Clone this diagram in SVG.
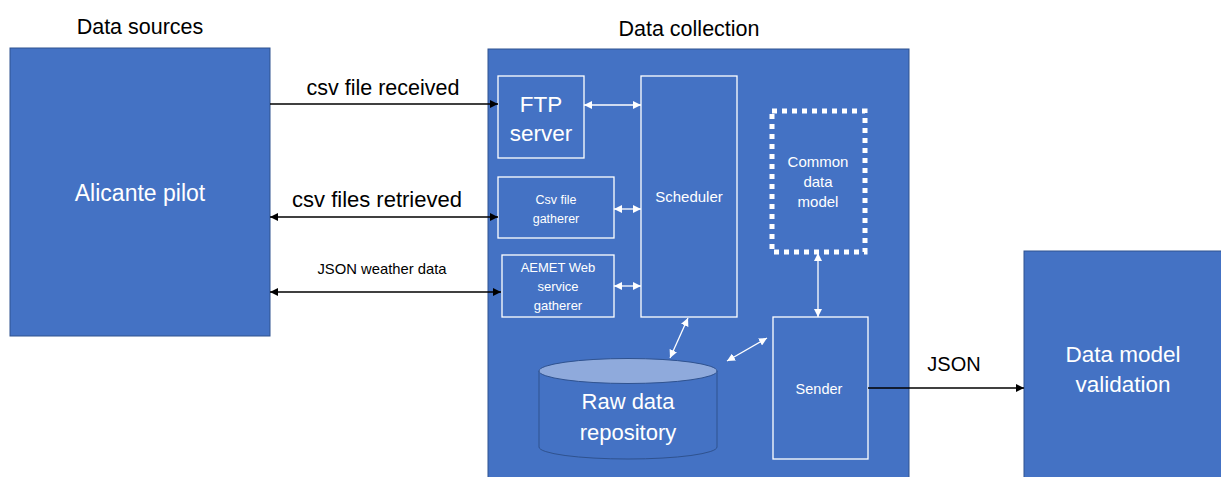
<svg xmlns="http://www.w3.org/2000/svg" width="1221" height="477" viewBox="0 0 1221 477">
<style>
.box{fill:#4472C4;stroke:#2F528F;stroke-width:1}
.inner{fill:#4472C4;stroke:#fff;stroke-width:1.3}
.t{font-family:"Liberation Sans",Arial,sans-serif;text-anchor:middle}
.w{fill:#fff}
.k{fill:#000}
.bl{stroke:#000;stroke-width:1.3;fill:none}
.wl{stroke:#fff;stroke-width:1.3;fill:none}
</style>
<defs>
<marker id="ak" viewBox="0 0 10 10" refX="10" refY="5" markerWidth="8" markerHeight="8" markerUnits="userSpaceOnUse" orient="auto-start-reverse"><path d="M0,0 L10,5 L0,10 z" fill="#000"/></marker>
<marker id="aw" viewBox="0 0 10 10" refX="10" refY="5" markerWidth="8" markerHeight="8" markerUnits="userSpaceOnUse" orient="auto-start-reverse"><path d="M0,0 L10,5 L0,10 z" fill="#fff"/></marker>
</defs>
<rect width="1221" height="477" fill="#fff"/>

<text class="t k" x="140" y="34" font-size="21.5">Data sources</text>
<text class="t k" x="689" y="36" font-size="21.5">Data collection</text>

<g id="alicante">
<rect class="box" x="10" y="48" width="260" height="288"/>
<text class="t w" x="140" y="201" font-size="23">Alicante pilot</text>
</g>

<g id="collection">
<rect class="box" x="488" y="49" width="421" height="440"/>
</g>

<g id="ftp">
<rect class="inner" x="498" y="76" width="86" height="82"/>
<text class="t w" x="541" y="112" font-size="22.5">FTP</text>
<text class="t w" x="541" y="141" font-size="22.5">server</text>
</g>

<g id="scheduler">
<rect class="inner" x="641" y="76" width="96" height="241"/>
<text class="t w" x="689" y="202" font-size="15">Scheduler</text>
</g>

<g id="csvgatherer">
<rect class="inner" x="498" y="177" width="116" height="61"/>
<text class="t w" x="556" y="204" font-size="12.5">Csv file</text>
<text class="t w" x="556" y="223" font-size="12.5">gatherer</text>
</g>

<g id="aemet">
<rect class="inner" x="502" y="255" width="112" height="62"/>
<text class="t w" x="558" y="272" font-size="13">AEMET Web</text>
<text class="t w" x="558" y="291" font-size="13">service</text>
<text class="t w" x="558" y="310" font-size="13">gatherer</text>
</g>

<g id="commondatamodel">
<rect x="772" y="111" width="93" height="141" fill="none" stroke="#fff" stroke-width="5" stroke-dasharray="5 5"/>
<text class="t w" x="818" y="167" font-size="15">Common</text>
<text class="t w" x="818" y="187" font-size="15">data</text>
<text class="t w" x="818" y="207" font-size="15">model</text>
</g>

<g id="sender">
<rect class="inner" x="773" y="317" width="95" height="142"/>
<text class="t w" x="819" y="394" font-size="14.5">Sender</text>
</g>

<g id="rawdata">
<path d="M539,371 L539,447 A89,12 0 0 0 717,447 L717,371" fill="#4472C4" stroke="#2F528F" stroke-width="1"/>
<ellipse cx="628" cy="371" rx="89" ry="12.5" fill="#8FAADC" stroke="#2F528F" stroke-width="1"/>
<text class="t w" x="628" y="409" font-size="22">Raw data</text>
<text class="t w" x="628" y="440" font-size="22">repository</text>
</g>

<g id="validation">
<rect class="box" x="1024" y="251" width="210" height="240"/>
<text class="t w" x="1123" y="362" font-size="22.5">Data model</text>
<text class="t w" x="1123" y="392" font-size="22.5">validation</text>
</g>

<g id="connectors">
<line class="bl" x1="270" y1="104" x2="498" y2="104" marker-end="url(#ak)"/>
<line class="bl" x1="270" y1="217" x2="498" y2="217" marker-start="url(#ak)" marker-end="url(#ak)"/>
<line class="bl" x1="270" y1="292" x2="501" y2="292" marker-start="url(#ak)" marker-end="url(#ak)"/>
<line class="bl" x1="868" y1="388" x2="1024" y2="388" marker-end="url(#ak)"/>
<line class="wl" x1="584" y1="105" x2="641" y2="105" marker-start="url(#aw)" marker-end="url(#aw)"/>
<line class="wl" x1="614" y1="209" x2="641" y2="209" marker-start="url(#aw)" marker-end="url(#aw)"/>
<line class="wl" x1="614" y1="286" x2="641" y2="286" marker-start="url(#aw)" marker-end="url(#aw)"/>
<line class="wl" x1="688" y1="318" x2="670" y2="358" marker-start="url(#aw)" marker-end="url(#aw)"/>
<line class="wl" x1="727" y1="361" x2="767" y2="338" marker-start="url(#aw)" marker-end="url(#aw)"/>
<line class="wl" x1="818" y1="253" x2="818" y2="317" marker-start="url(#aw)" marker-end="url(#aw)"/>
<text class="t k" x="383" y="95" font-size="21.5">csv file received</text>
<text class="t k" x="377" y="207" font-size="22">csv files retrieved</text>
<text class="t k" x="382" y="274" font-size="14.8">JSON weather data</text>
<text class="t k" x="954" y="371" font-size="20">JSON</text>
</g>
</svg>
